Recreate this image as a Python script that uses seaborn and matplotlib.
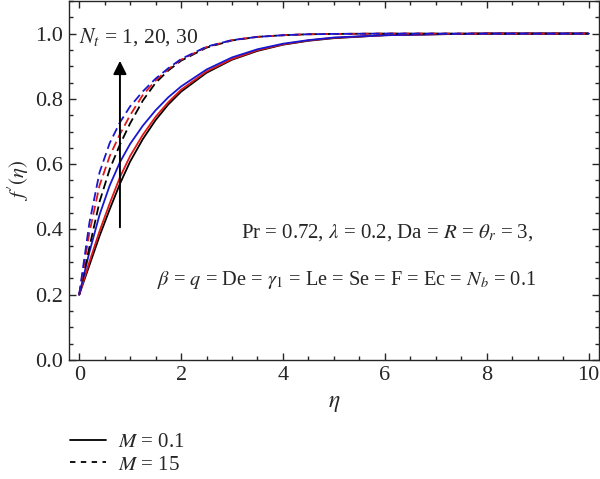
import numpy as np
import pandas as pd
import matplotlib
matplotlib.use("Agg")
import matplotlib.pyplot as plt
from matplotlib.ticker import MultipleLocator
from matplotlib.lines import Line2D
import seaborn as sns

# f'(eta), for Nt = 1, 20, 30 (black, red, blue)
eta = [0, 0.2, 0.4, 0.6, 0.8, 1.0, 1.25, 1.5, 1.75, 2.0, 2.5, 3.0, 3.5,
       4.0, 4.5, 5.0, 6.0, 7.0, 8.0, 10.0]

# M = 0.1 (solid)
m01_nt1 = [0.2, 0.29, 0.38, 0.462, 0.54, 0.608, 0.677, 0.735, 0.783, 0.822,
           0.88, 0.92, 0.947, 0.966, 0.978, 0.986, 0.995, 0.998, 1.0, 1.0]
m01_nt20 = [0.2, 0.30, 0.395, 0.48, 0.56, 0.625, 0.69, 0.745, 0.79, 0.828,
            0.884, 0.922, 0.949, 0.967, 0.979, 0.987, 0.995, 0.998, 1.0, 1.0]
m01_nt30 = [0.2, 0.33, 0.445, 0.535, 0.606, 0.662, 0.718, 0.765, 0.805, 0.838,
            0.89, 0.927, 0.952, 0.969, 0.98, 0.988, 0.995, 0.998, 1.0, 1.0]

# M = 15 (dashed)
m15_nt1 = [0.2, 0.345, 0.485, 0.585, 0.66, 0.725, 0.795, 0.849, 0.887, 0.917,
           0.957, 0.979, 0.99, 0.995, 0.998, 0.999, 1.0, 1.0, 1.0, 1.0]
m15_nt20 = [0.2, 0.39, 0.535, 0.625, 0.692, 0.75, 0.812, 0.856, 0.891, 0.92,
            0.959, 0.98, 0.99, 0.995, 0.998, 0.999, 1.0, 1.0, 1.0, 1.0]
m15_nt30 = [0.2, 0.42, 0.575, 0.665, 0.728, 0.777, 0.823, 0.862, 0.894, 0.922,
            0.96, 0.98, 0.99, 0.995, 0.998, 0.999, 1.0, 1.0, 1.0, 1.0]

nt_labels = ["1", "20", "30"]
m_labels = ["0.1", "15"]
colors = ["#000000", "#e01818", "#1818d0"]

rows = []
for m, series in zip(m_labels, [[m01_nt1, m01_nt20, m01_nt30],
                                [m15_nt1, m15_nt20, m15_nt30]]):
    for nt, vals in zip(nt_labels, series):
        for e, v in zip(eta, vals):
            rows.append({"eta": e, "f": v, "Nt": nt, "M": m})
df = pd.DataFrame(rows)

sns.set_style("ticks")
plt.rcParams["font.family"] = ["Liberation Serif", "DejaVu Serif"]
plt.rcParams["mathtext.fontset"] = "stix"

fig = plt.figure(figsize=(6, 4.79), dpi=100)
ax = fig.add_axes([0.115, 0.2485, 0.883, 0.7495])

for m, ls in zip(m_labels, ["-", (0, (5, 2.5))]):
    sub = df[df["M"] == m]
    for nt, c in zip(nt_labels, colors):
        d = sub[sub["Nt"] == nt]
        sns.lineplot(data=d, x="eta", y="f", ax=ax, color=c, lw=1.3,
                     linestyle=ls, legend=False)

ax.set_xlim(-0.2, 10.2)
ax.set_ylim(0, 1.1)
ax.xaxis.set_major_locator(MultipleLocator(2))
ax.xaxis.set_minor_locator(MultipleLocator(0.5))
ax.yaxis.set_minor_locator(MultipleLocator(0.05))
ax.set_yticks([0, 0.2, 0.4, 0.6, 0.8, 1.0])
ax.tick_params(which="both", direction="in", top=True, right=True,
               labelsize=16, width=1)
ax.tick_params(which="major", length=5, pad=4)
ax.tick_params(which="minor", length=3)
for s in ax.spines.values():
    s.set_linewidth(1)
ax.set_xlabel(r"$\eta$", fontsize=17, labelpad=6)
ax.set_ylabel(r"$f^{\prime}(\eta)$", fontsize=15)
ax.yaxis.set_label_coords(-0.072, 0.5)

ax.annotate("", xy=(0.8, 0.925), xytext=(0.8, 0.398),
            arrowprops=dict(arrowstyle="-|>", color="black", lw=1.4,
                            mutation_scale=20))
ax.text(0.0, 0.988, r"$N_t$ = 1, 20, 30", fontsize=15.5, va="center", ha="left")
ax.text(6.05, 0.39, r"Pr = 0.72, $\lambda$ = 0.2, Da = $R$ = $\theta_r$ = 3,",
        fontsize=15, ha="center", va="center")
ax.text(5.25, 0.245,
        r"$\beta$ = $q$ = De = $\gamma_1$ = Le = Se = F = Ec = $N_b$ = 0.1",
        fontsize=14.7, ha="center", va="center")

handles = [Line2D([], [], color="black", lw=1.3, linestyle="-"),
           Line2D([], [], color="black", lw=1.3, linestyle=(0, (3, 3)))]
fig.legend(handles, [r"$M$ = 0.1", r"$M$ = 15"], loc="lower left",
           bbox_to_anchor=(0.085, -0.03), frameon=False, fontsize=15,
           handlelength=1.75, handletextpad=0.55, labelspacing=0.15)

fig.savefig("out.png", dpi=100)
